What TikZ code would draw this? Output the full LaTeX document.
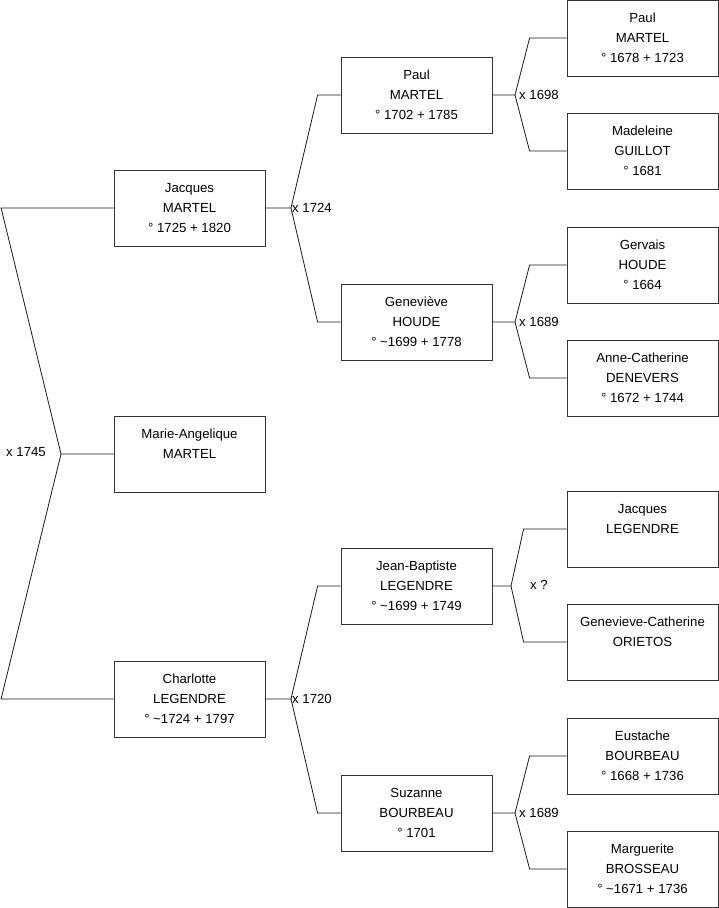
\documentclass[tikz,border=0pt]{standalone}
\usepackage{fontspec}
\setmainfont{Liberation Sans}
\begin{document}
\begin{tikzpicture}[x=1pt,y=-1pt,
  person/.style={rectangle,draw=black!80,line width=0.8pt,minimum width=151pt,minimum height=76pt,inner sep=0pt,align=center,font=\fontsize{13.2}{20}\selectfont},
  wed/.style={font=\fontsize{13.2}{15}\selectfont,inner sep=1pt},
  link/.style={draw=black!90,line width=0.8pt}]
\useasboundingbox (0,0) rectangle (719,908);
% children / parents
\node[person] (jacques) at (189.5,208) {Jacques\\MARTEL\\° 1725 + 1820};
\node[person] (marie) at (189.5,454) {Marie-Angelique\\MARTEL\\\mbox{}};
\node[person] (charlotte) at (189.5,699) {Charlotte\\LEGENDRE\\° \textasciitilde1724 + 1797};
% grandparents
\node[person] (paul) at (416.5,95) {Paul\\MARTEL\\° 1702 + 1785};
\node[person] (genevieve) at (416.5,322) {Geneviève\\HOUDE\\° \textasciitilde1699 + 1778};
\node[person] (jeanbaptiste) at (416.5,586) {Jean-Baptiste\\LEGENDRE\\° \textasciitilde1699 + 1749};
\node[person] (suzanne) at (416.5,813) {Suzanne\\BOURBEAU\\° 1701};
% great-grandparents
\node[person] (paulp) at (642.5,38) {Paul\\MARTEL\\° 1678 + 1723};
\node[person] (madeleine) at (642.5,151) {Madeleine\\GUILLOT\\° 1681};
\node[person] (gervais) at (642.5,265) {Gervais\\HOUDE\\° 1664};
\node[person] (annecath) at (642.5,378) {Anne-Catherine\\DENEVERS\\° 1672 + 1744};
\node[person] (jacquesl) at (642.5,529) {Jacques\\LEGENDRE\\\mbox{}};
\node[person] (genevievec) at (642.5,642) {Genevieve-Catherine\\ORIETOS\\\mbox{}};
\node[person] (eustache) at (642.5,756) {Eustache\\BOURBEAU\\° 1668 + 1736};
\node[person] (marguerite) at (642.5,869) {Marguerite\\BROSSEAU\\° \textasciitilde1671 + 1736};
% marriages
\coordinate (m0) at (61,454);
\coordinate (m1) at (291,208);
\coordinate (m2) at (291,699);
\coordinate (m11) at (515,95);
\coordinate (m12) at (515,322);
\coordinate (m21) at (511,586);
\coordinate (m22) at (515,813);
\draw[link] (marie.west) -- (m0) -- ([xshift=-112.5pt]jacques.west) -- (jacques.west);
\draw[link] (m0) -- ([xshift=-112.5pt]charlotte.west) -- (charlotte.west);
\draw[link] (jacques.east) -- (m1) -- ([xshift=-23pt]paul.west) -- (paul.west);
\draw[link] (m1) -- ([xshift=-23pt]genevieve.west) -- (genevieve.west);
\draw[link] (charlotte.east) -- (m2) -- ([xshift=-23pt]jeanbaptiste.west) -- (jeanbaptiste.west);
\draw[link] (m2) -- ([xshift=-23pt]suzanne.west) -- (suzanne.west);
\draw[link] (paul.east) -- (m11) -- ([xshift=-37pt]paulp.west) -- (paulp.west);
\draw[link] (m11) -- ([xshift=-37pt]madeleine.west) -- (madeleine.west);
\draw[link] (genevieve.east) -- (m12) -- ([xshift=-37pt]gervais.west) -- (gervais.west);
\draw[link] (m12) -- ([xshift=-37pt]annecath.west) -- (annecath.west);
\draw[link] (jeanbaptiste.east) -- (m21) -- ([xshift=-43pt]jacquesl.west) -- (jacquesl.west);
\draw[link] (m21) -- ([xshift=-43pt]genevievec.west) -- (genevievec.west);
\draw[link] (suzanne.east) -- (m22) -- ([xshift=-37pt]eustache.west) -- (eustache.west);
\draw[link] (m22) -- ([xshift=-37pt]marguerite.west) -- (marguerite.west);
\node[wed] (w0) at (26,452) {x 1745};
\node[wed,anchor=west] (w1) at (m1) {x 1724};
\node[wed,anchor=west] (w2) at (m2) {x 1720};
\node[wed,anchor=west] (w11) at ([xshift=3pt]m11) {x 1698};
\node[wed,anchor=west] (w12) at ([xshift=3pt]m12) {x 1689};
\node[wed] (w21) at (539,585) {x ?};
\node[wed,anchor=west] (w22) at ([xshift=3pt]m22) {x 1689};
\end{tikzpicture}
\end{document}
